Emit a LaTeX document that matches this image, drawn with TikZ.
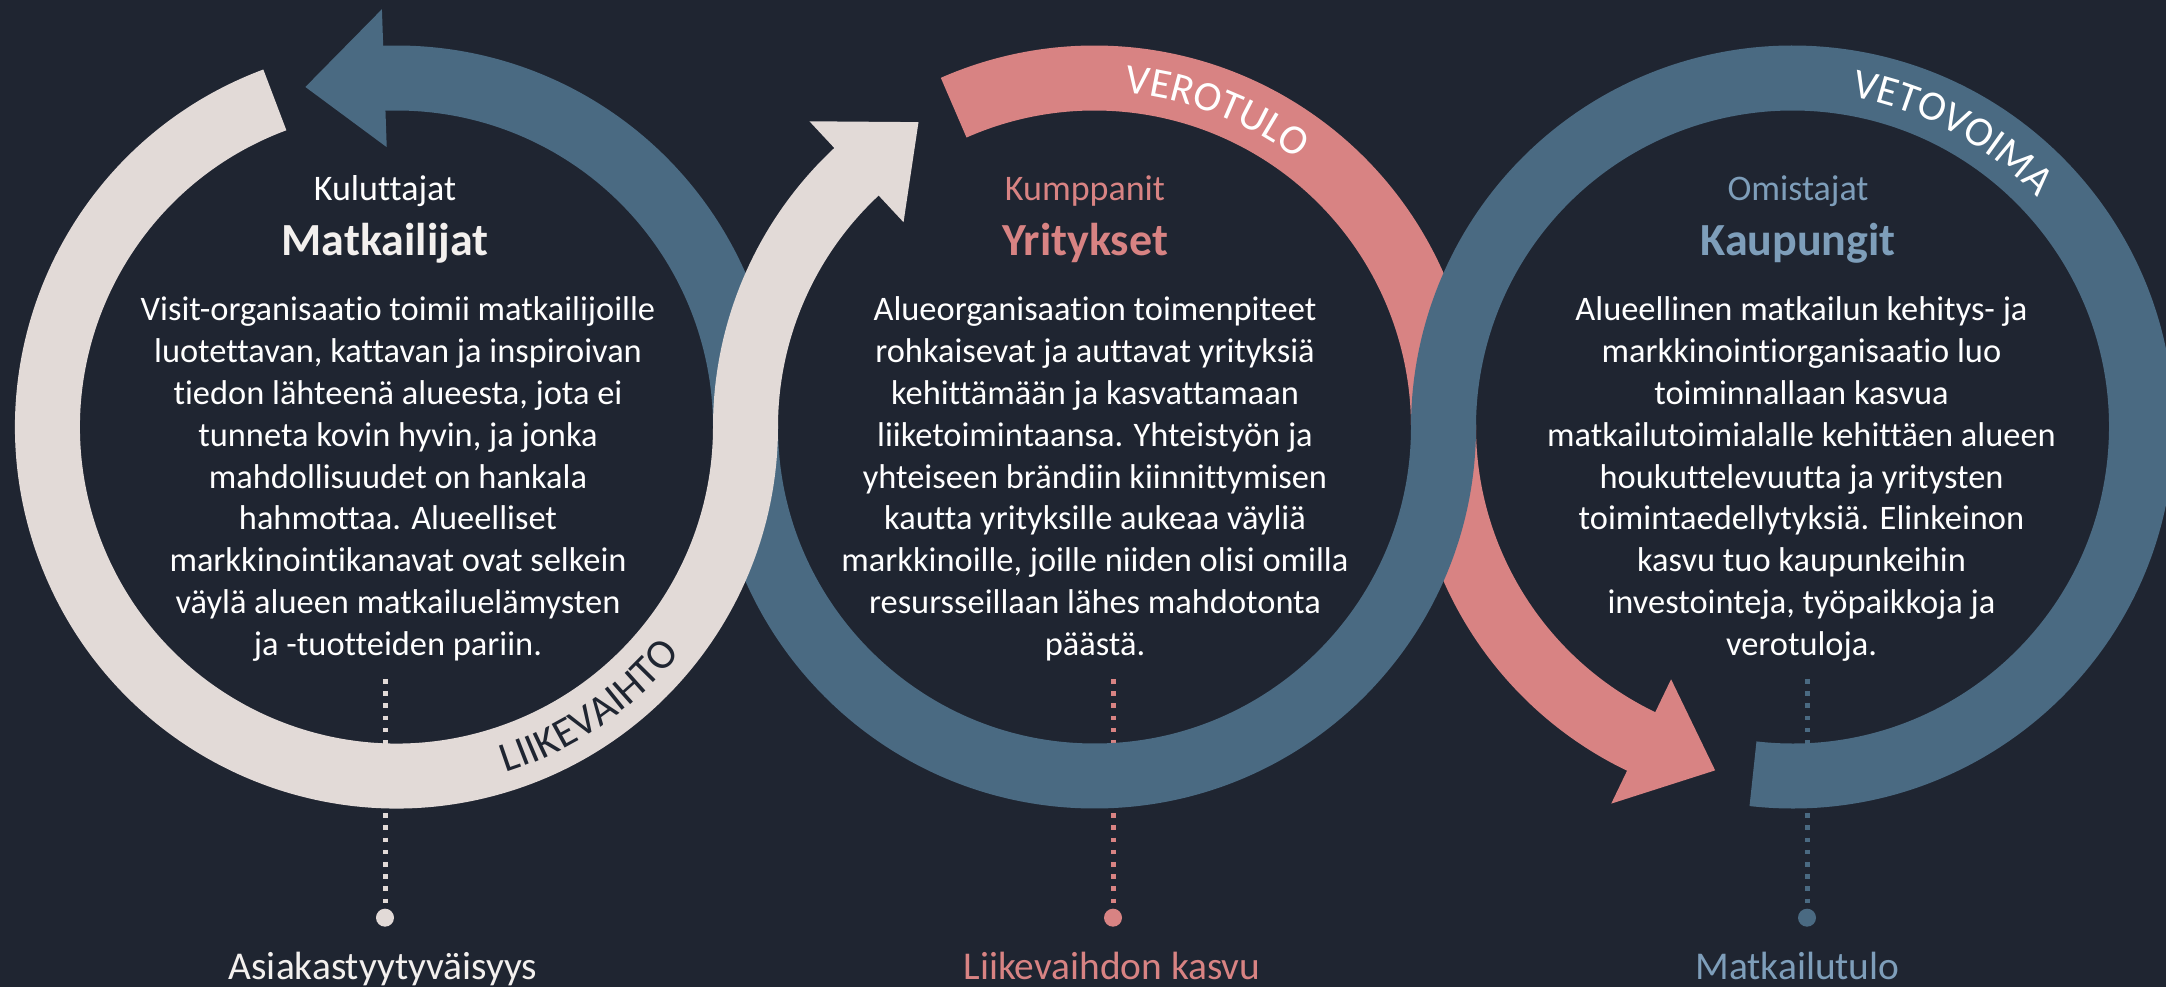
\documentclass[tikz,border=0pt]{standalone}
\usepackage{fontspec}
\setmainfont{Carlito}[Ligatures={NoCommon,NoRequired,NoContextual}]
\usetikzlibrary{decorations.text}
\definecolor{bgc}{RGB}{31,37,49}
\definecolor{blueband}{RGB}{74,106,130}
\definecolor{pinkband}{RGB}{216,131,131}
\definecolor{beigeband}{RGB}{226,218,215}
\definecolor{lightblue}{RGB}{126,158,186}
\definecolor{offwhite}{RGB}{243,240,238}
\newcommand{\arcfont}{\fontsize{42}{42}\selectfont}
\begin{document}
\begin{tikzpicture}[x=1pt,y=1pt,
  band/.style={line width=65pt, line cap=butt},
  dotline/.style={line width=5pt, dash pattern=on 4.6pt off 7.6pt},
  dotnode/.style={circle, minimum size=18pt, inner sep=0pt},
  subt/.style={font=\fontsize{36}{36}\selectfont, inner sep=0pt, anchor=base},
  ttl/.style={font=\fontsize{46}{46}\selectfont\bfseries, inner sep=0pt, anchor=base},
  bodytxt/.style={font=\fontsize{34.4}{41.8}\selectfont, text=white, inner sep=0pt, anchor=base},
  lbl/.style={font=\fontsize{39.4}{40}\selectfont, inner sep=0pt, anchor=base}]
\fill[bgc] (0,0) rectangle (2166,987);
\useasboundingbox (0,0) rectangle (2166,987);
\clip (0,0) rectangle (2166,987);

\coordinate (C1) at (396.5,560);
\coordinate (C2) at (1094.5,560);
\coordinate (C3) at (1792.5,560);

% dotted leaders
\coordinate (t1) at (385,308);
\coordinate (t2) at (1113,308);
\coordinate (t3) at (1807,308);
\node[dotnode, fill=beigeband] (d1) at (385,69.3) {};
\node[dotnode, fill=pinkband] (d2) at (1113,69.3) {};
\node[dotnode, fill=blueband] (d3) at (1807,69.3) {};
\draw[dotline, beigeband] (t1) -- (d1.center);
\draw[dotline, pinkband] (t2) -- (d2.center);
\draw[dotline, blueband] (t3) -- (d3.center);

% pink arrow (bottom layer)
\draw[band, pinkband] ([shift={(113.8:349)}]C2) arc[start angle=113.8, end angle=0, radius=349]
  arc[start angle=180, end angle=245.8, radius=349];
\fill[pinkband] ([shift={(244.3:418)}]C3) -- ([shift={(257.3:352)}]C3) -- ([shift={(244.3:280)}]C3) -- cycle;

% blue arrow
\draw[band, blueband] ([shift={(263.5:349)}]C3) arc[start angle=263.5, end angle=540, radius=349]
  arc[start angle=360, end angle=180, radius=349]
  arc[start angle=0, end angle=93.5, radius=349];
\fill[blueband] ([shift={(92:418)}]C1) -- ([shift={(105:352)}]C1) -- ([shift={(92:280)}]C1) -- cycle;

% beige arrow (top layer)
\draw[band, beigeband] ([shift={(110.4:349)}]C1) arc[start angle=110.4, end angle=360, radius=349]
  arc[start angle=180, end angle=131.5, radius=349];
\fill[beigeband] ([shift={(133:418)}]C2) -- ([shift={(120:352)}]C2) -- ([shift={(133:280)}]C2) -- cycle;

% texts along the bands
\path[decorate, decoration={text along path, text align=center, text={|\arcfont\color{bgc}|LIIKEVAIHTO}}]
  ([shift={(274.5:362.5)}]C1) arc[start angle=274.5, end angle=334.5, radius=362.5];
\path[decorate, decoration={text along path, text align=center, text={|\arcfont\color{white}|VEROTULO}}]
  ([shift={(98.8:335.5)}]C2) arc[start angle=98.8, end angle=38.8, radius=335.5];
\path[decorate, decoration={text along path, text align=center, text={|\arcfont\color{white}|VETOVOIMA}}]
  ([shift={(91.5:335.5)}]C3) arc[start angle=91.5, end angle=31.5, radius=335.5];

% circle 1 texts
\node[subt, text=white] (s1) at (385,786) {Kuluttajat};
\node[ttl, text=offwhite] (h1) at (385,731) {Matkailijat};
\foreach \ln [count=\i from 0] in {
  {Visit-organisaatio toimii matkailijoille},
  {luotettavan, kattavan ja inspiroivan},
  {tiedon lähteenä alueesta, jota ei},
  {tunneta kovin hyvin, ja jonka},
  {mahdollisuudet on hankala},
  {hahmottaa. Alueelliset},
  {markkinointikanavat ovat selkein},
  {väylä alueen matkailuelämysten},
  {ja -tuotteiden pariin.}}
  \node[bodytxt] (pa\i) at (398,666-41.8*\i) {\ln};

% circle 2 texts
\node[subt, text=pinkband] (s2) at (1085,786) {Kumppanit};
\node[ttl, text=pinkband] (h2) at (1085,731) {Yritykset};
\foreach \ln [count=\i from 0] in {
  {Alueorganisaation toimenpiteet},
  {rohkaisevat ja auttavat yrityksiä},
  {kehittämään ja kasvattamaan},
  {liiketoimintaansa. Yhteistyön ja},
  {yhteiseen brändiin kiinnittymisen},
  {kautta yrityksille aukeaa väyliä},
  {markkinoille, joille niiden olisi omilla},
  {resursseillaan lähes mahdotonta},
  {päästä.}}
  \node[bodytxt] (pb\i) at (1095,666-41.8*\i) {\ln};

% circle 3 texts
\node[subt, text=lightblue] (s3) at (1798,786) {Omistajat};
\node[ttl, text=lightblue] (h3) at (1798,731) {Kaupungit};
\foreach \ln [count=\i from 0] in {
  {Alueellinen matkailun kehitys- ja},
  {markkinointiorganisaatio luo},
  {toiminnallaan kasvua},
  {matkailutoimialalle kehittäen alueen},
  {houkuttelevuutta ja yritysten},
  {toimintaedellytyksiä. Elinkeinon},
  {kasvu tuo kaupunkeihin},
  {investointeja, työpaikkoja ja},
  {verotuloja.}}
  \node[bodytxt] (pc\i) at (1801.5,666-41.8*\i) {\ln};

% bottom labels
\node[lbl, text=offwhite] (l1) at (383,7) {Asiakastyytyväisyys};
\node[lbl, text=pinkband] (l2) at (1112,7) {Liikevaihdon kasvu};
\node[lbl, text=lightblue] (l3) at (1797.5,7) {Matkailutulo};
\end{tikzpicture}
\end{document}
